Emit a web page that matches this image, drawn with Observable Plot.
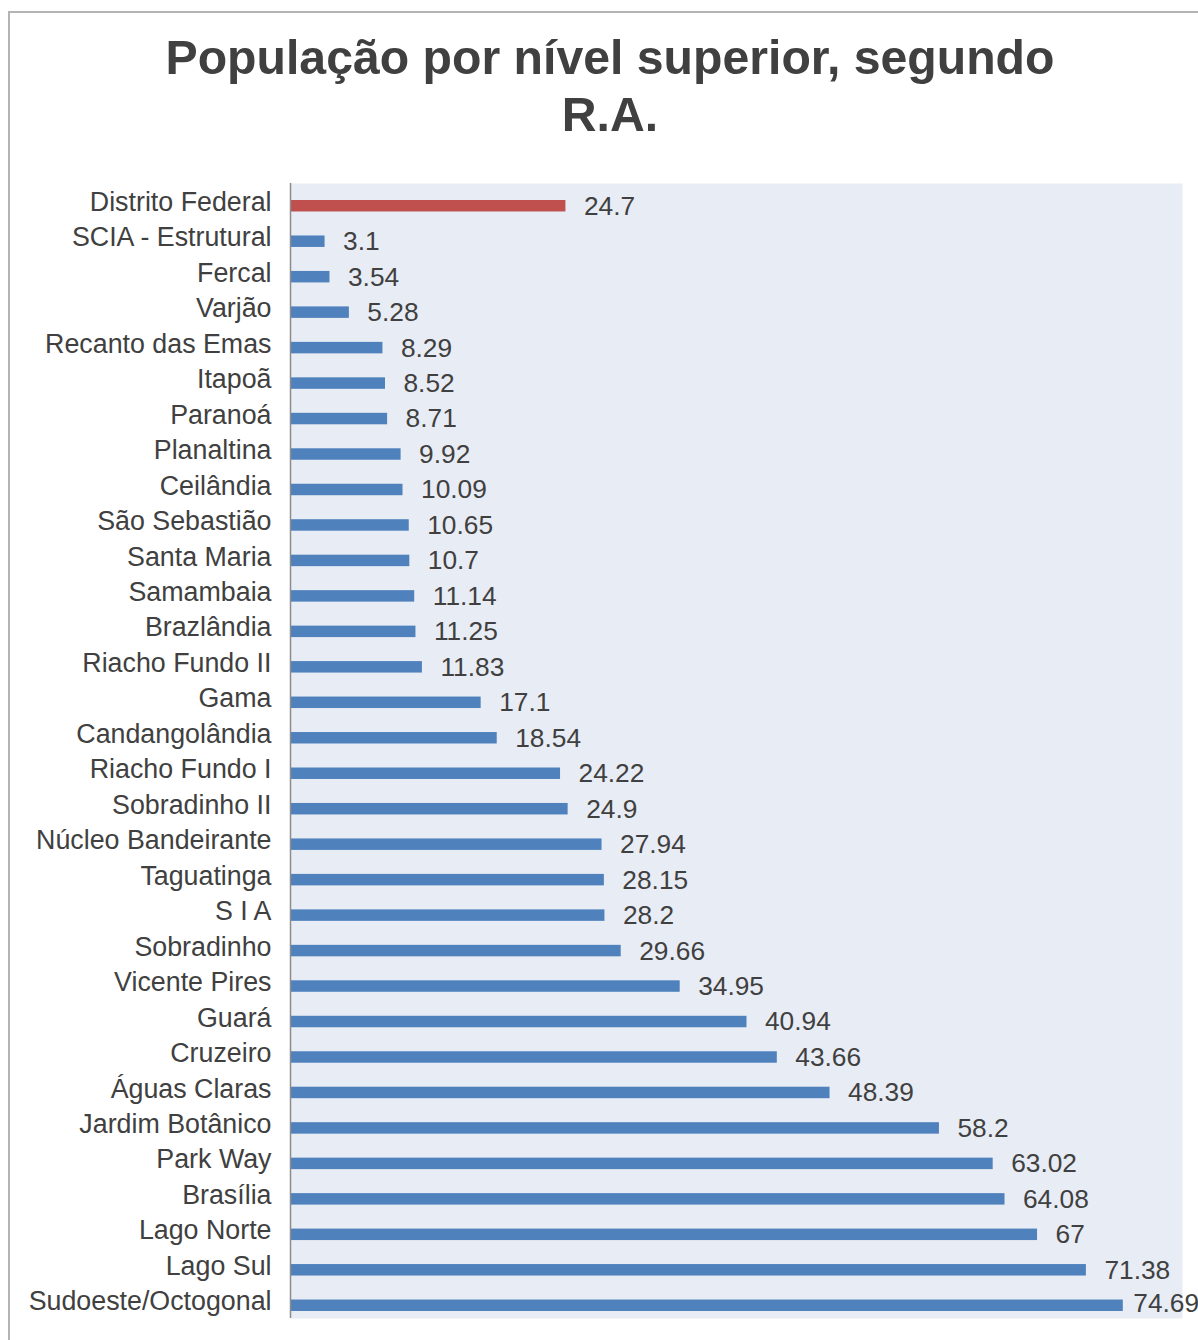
<!DOCTYPE html>
<html>
<head>
<meta charset="utf-8">
<script src="https://cdn.jsdelivr.net/npm/d3@7"></script>
<script src="https://cdn.jsdelivr.net/npm/@observablehq/plot@0.6"></script>
<style>
  html, body { margin: 0; padding: 0; background: #fff; }
  #wrap { position: relative; width: 1198px; height: 1340px; overflow: hidden; font-family: "Liberation Sans", Arial, sans-serif; }
  #border { position: absolute; left: 8px; top: 11px; width: 1220px; height: 1360px; border: 2px solid #b4b4b4; box-sizing: border-box; }
  #title { position: absolute; left: 9px; width: 1202px; top: 29px; text-align: center; font-weight: bold; font-size: 48.2px; line-height: 57px; color: #404040; margin: 0; }
  #chart { position: absolute; left: 0; top: 0; }
</style>
</head>
<body>
<div id="wrap">
  <div id="border"></div>
  <div id="title">População por nível superior, segundo<br>R.A.</div>
  <div id="chart"></div>
</div>
<script>
// Região administrativa (top to bottom) and share with higher education (%)
const regions = [
  "Distrito Federal", "SCIA - Estrutural", "Fercal", "Varjão", "Recanto das Emas",
  "Itapoã", "Paranoá", "Planaltina", "Ceilândia", "São Sebastião", "Santa Maria",
  "Samambaia", "Brazlândia", "Riacho Fundo II", "Gama", "Candangolândia",
  "Riacho Fundo I", "Sobradinho II", "Núcleo Bandeirante", "Taguatinga", "S I A",
  "Sobradinho", "Vicente Pires", "Guará", "Cruzeiro", "Águas Claras",
  "Jardim Botânico", "Park Way", "Brasília", "Lago Norte", "Lago Sul",
  "Sudoeste/Octogonal"
];
const values = [
  24.7, 3.1, 3.54, 5.28, 8.29, 8.52, 8.71, 9.92, 10.09, 10.65, 10.7,
  11.14, 11.25, 11.83, 17.1, 18.54, 24.22, 24.9, 27.94, 28.15, 28.2,
  29.66, 34.95, 40.94, 43.66, 48.39, 58.2, 63.02, 64.08, 67, 71.38, 74.69
];
const highlight = "Distrito Federal";

const data = regions.map((r, i) => ({region: r, value: values[i]}));
const ink = "#404040";

const chart = Plot.plot({
  width: 1198,
  height: 1340,
  marginLeft: 290,
  marginRight: 16,
  marginTop: 183,
  marginBottom: 22,
  style: {fontFamily: "'Liberation Sans', Arial, sans-serif", background: "transparent"},
  x: {domain: [0, 80], axis: null},
  y: {domain: regions, range: [188, 1323], padding: 0, round: false, axis: null},
  marks: [
    Plot.frame({fill: "#E8ECF4", stroke: null}),
    Plot.barX(data, {
      x: "value", y: "region",
      insetTop: 12, insetBottom: 12,
      fill: d => d.region === highlight ? "#C0504D" : "#4F81BD"
    }),
    Plot.ruleX([0], {stroke: "#8c8c8c", strokeWidth: 1.5}),
    Plot.axisY({tickSize: 0, tickPadding: 19, fontSize: 26.8, color: ink, label: null, dy: -4}),
    Plot.text(data, {
      filter: d => d.value < 74,
      x: "value", y: "region", text: d => String(d.value),
      textAnchor: "start", dx: 18, dy: 0, fontSize: 26.3, fill: ink
    }),
    Plot.text(data, {
      filter: d => d.value >= 74,
      x: "value", y: "region", text: d => String(d.value),
      textAnchor: "start", dx: 10, dy: -2, fontSize: 26.3, fill: ink
    })
  ]
});
document.getElementById("chart").append(chart);
</script>
</body>
</html>
